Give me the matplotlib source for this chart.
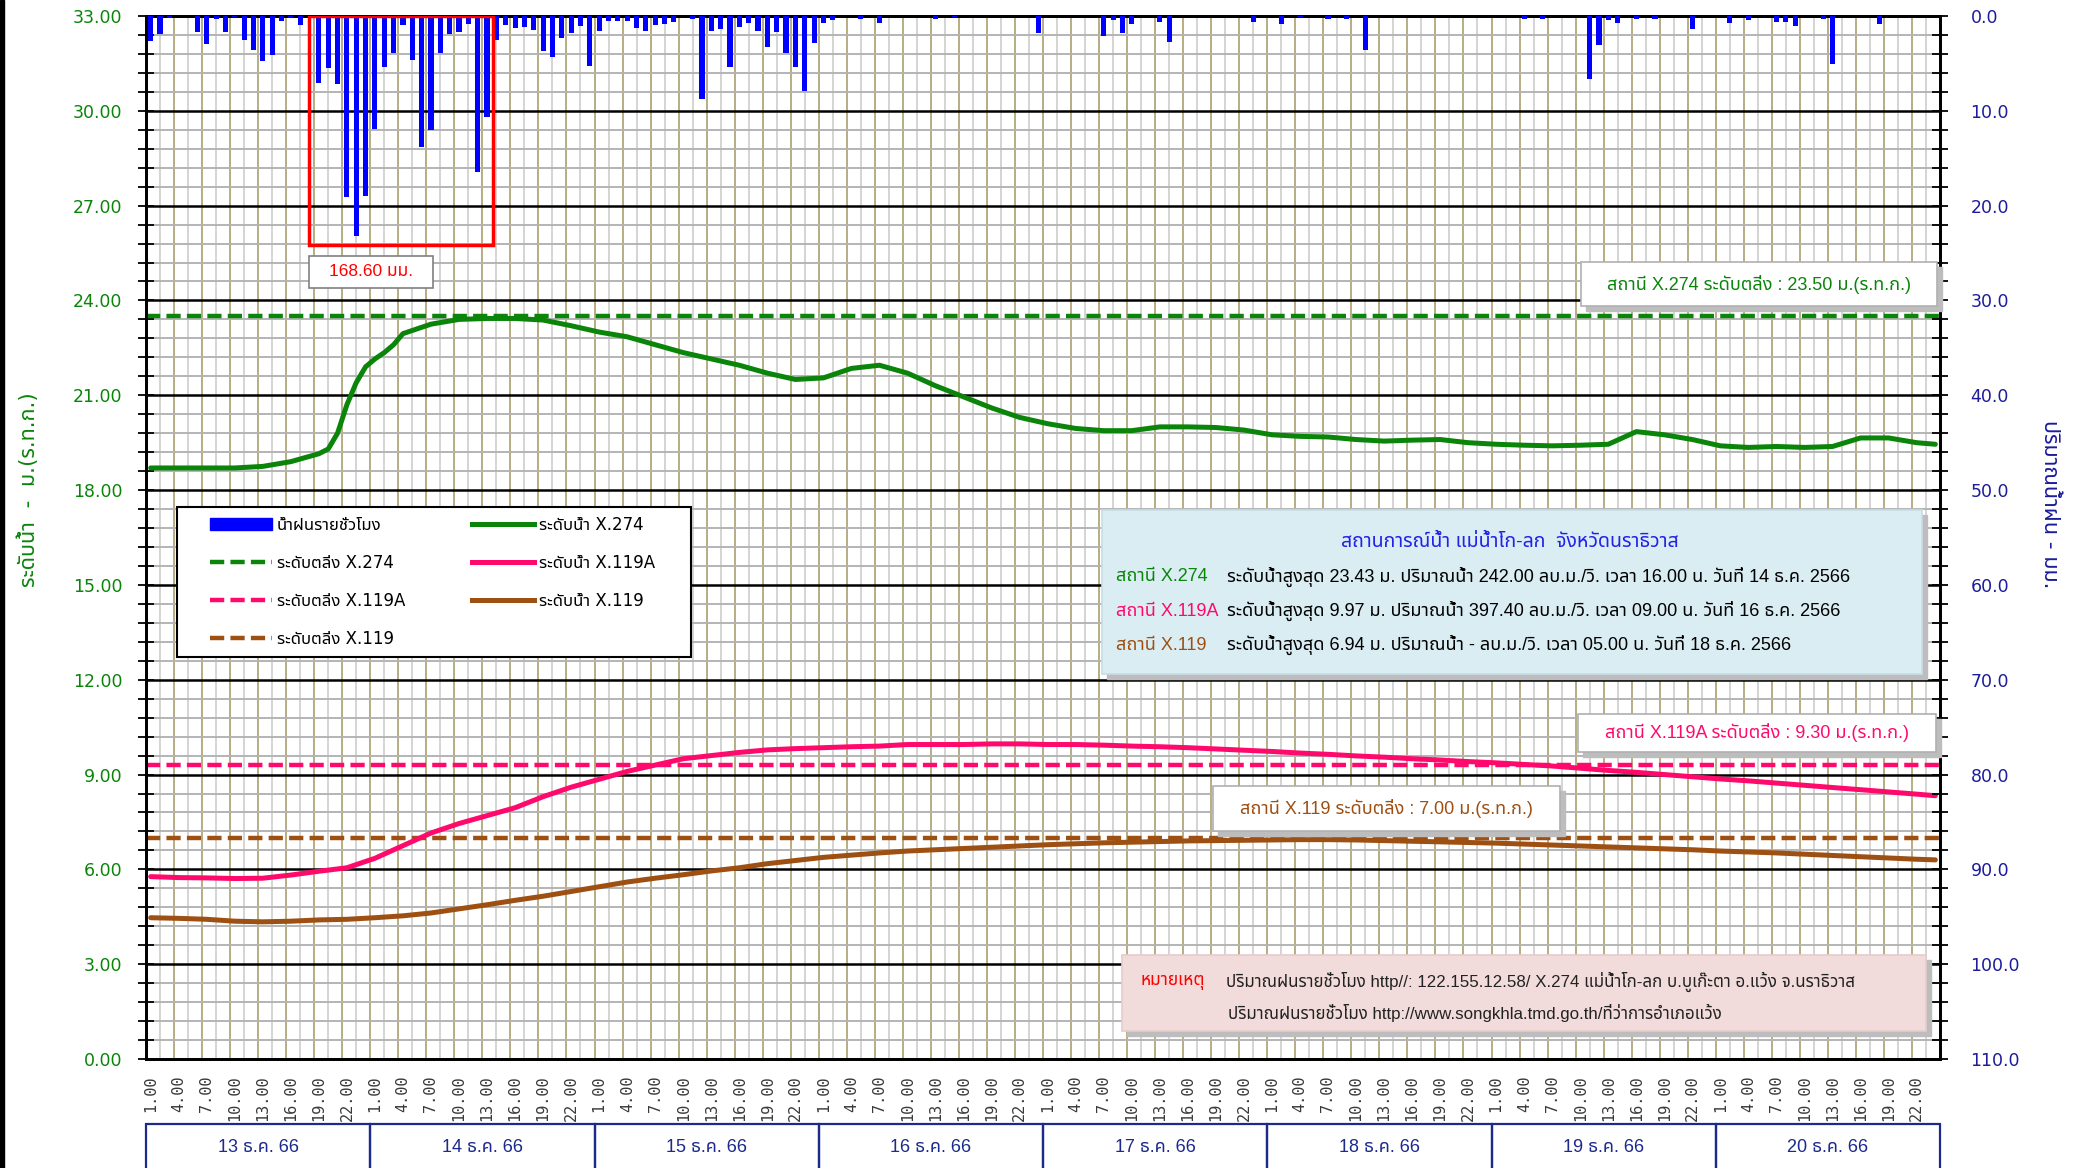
import numpy as np
import matplotlib
matplotlib.use('Agg')
import matplotlib.pyplot as plt
import matplotlib.transforms as mtransforms
from matplotlib import font_manager
from matplotlib.patches import Rectangle, Patch
from matplotlib.lines import Line2D

# ---- data ----
days = ['13 ธ.ค. 66', '14 ธ.ค. 66', '15 ธ.ค. 66', '16 ธ.ค. 66',
        '17 ธ.ค. 66', '18 ธ.ค. 66', '19 ธ.ค. 66', '20 ธ.ค. 66']
hour_labels = ['1.00', '4.00', '7.00', '10.00', '13.00', '16.00', '19.00', '22.00']

# hourly rain (hour index from 13 Dec 01:00, mm)
rain_hour = [0, 1, 2, 5, 6, 7, 8, 9, 10, 11, 12, 13, 14, 15, 16,
             18, 19, 20, 21, 22, 23, 24, 25, 26, 27, 28, 29, 30, 31, 32, 33, 34, 35, 36,
             37, 38, 39, 40, 41, 42, 43, 44, 45, 46, 47, 48, 49, 50, 51, 52, 53, 54,
             55, 56, 58, 59, 60, 61, 62, 63, 64, 65, 66, 67, 68, 69, 70, 71, 72, 73,
             76, 78, 84, 86, 95, 102, 103, 104, 105, 108, 109, 118, 121, 123, 126, 128,
             130, 147, 149, 154, 155, 156, 157, 159, 161, 165, 169, 171, 174, 175, 176,
             179, 180, 185]
rain_mm = [2.6, 1.9, 0.2, 1.7, 3.0, 0.35, 1.7, 0.1, 2.5, 3.6, 4.7, 4.1, 0.5, 0.2, 1.0,
           7.1, 5.5, 7.2, 19.1, 23.2, 19.0, 11.9, 5.4, 3.9, 1.0, 4.6, 13.8, 12.0, 3.85, 1.95, 1.7, 0.8, 16.4, 10.6,
           2.5, 1.0, 1.25, 1.15, 1.45, 3.7, 4.35, 2.3, 1.75, 1.05, 5.25, 1.6, 0.5, 0.55, 0.5, 1.3, 1.6, 0.9,
           0.8, 0.6, 0.3, 8.75, 1.6, 1.4, 5.4, 1.15, 0.75, 1.6, 3.3, 1.65, 3.85, 5.4, 7.9, 2.9, 0.75, 0.45,
           0.3, 0.7, 0.3, 0.15, 1.8, 2.1, 0.4, 1.75, 0.8, 0.65, 2.75, 0.6, 0.8, 0.15, 0.3, 0.3,
           3.6, 0.3, 0.3, 6.6, 3.1, 0.45, 0.75, 0.3, 0.3, 1.35, 0.7, 0.45, 0.6, 0.65, 1.05,
           0.3, 5.1, 0.8]

# water levels, read every 3 hours (hourly where the X.274 rise is steep)
level_hour = list(range(0, 192, 3)) + [191]
hour_274 = [0, 3, 6, 9, 12, 15, 18, 19, 20, 21, 22, 23, 24, 25, 26, 27] + list(range(30, 192, 3)) + [191]
x274 = [18.70, 18.70, 18.70, 18.70, 18.75, 18.90, 19.15, 19.30, 19.80, 20.70,
        21.40, 21.90, 22.15, 22.35, 22.60, 22.95,
        23.25, 23.40, 23.43, 23.43, 23.38, 23.20, 23.00, 22.85, 22.60, 22.35,
        22.15, 21.95, 21.70, 21.50, 21.55, 21.85, 21.95, 21.70, 21.30, 20.95,
        20.60, 20.30, 20.10, 19.95, 19.88, 19.88, 20.00, 20.00, 19.98, 19.90,
        19.75, 19.70, 19.68, 19.60, 19.55, 19.58, 19.60, 19.50, 19.45, 19.42,
        19.40, 19.42, 19.45, 19.85, 19.75, 19.60, 19.40, 19.35, 19.38, 19.35,
        19.38, 19.65, 19.65, 19.50, 19.45]
x119a = [5.77, 5.74, 5.73, 5.71, 5.72, 5.82, 5.94, 6.05, 6.35, 6.75,
         7.15, 7.45, 7.70, 7.95, 8.30, 8.60, 8.85, 9.10, 9.30, 9.50,
         9.60, 9.70, 9.78, 9.82, 9.85, 9.88, 9.90, 9.95, 9.95, 9.95,
         9.97, 9.97, 9.95, 9.95, 9.93, 9.90, 9.88, 9.85, 9.81, 9.77,
         9.73, 9.68, 9.64, 9.59, 9.55, 9.50, 9.46, 9.41, 9.37, 9.32,
         9.27, 9.20, 9.13, 9.07, 9.00, 8.93, 8.86, 8.80, 8.73, 8.66,
         8.59, 8.52, 8.45, 8.38, 8.33]
x119 = [4.47, 4.45, 4.42, 4.36, 4.34, 4.36, 4.40, 4.42, 4.47, 4.53,
        4.62, 4.75, 4.88, 5.02, 5.15, 5.30, 5.45, 5.60, 5.72, 5.83,
        5.95, 6.05, 6.18, 6.28, 6.38, 6.45, 6.52, 6.58, 6.62, 6.66,
        6.70, 6.74, 6.78, 6.81, 6.84, 6.86, 6.88, 6.90, 6.91, 6.92,
        6.93, 6.94, 6.94, 6.93, 6.91, 6.89, 6.87, 6.85, 6.83, 6.80,
        6.77, 6.74, 6.71, 6.68, 6.65, 6.62, 6.58, 6.55, 6.52, 6.48,
        6.44, 6.40, 6.36, 6.32, 6.30]
bank_274 = 23.50
bank_119a = 9.30
bank_119 = 7.00


# ---- fonts: need one with Thai glyphs ----
def thai_family():
    from fontTools.ttLib import TTFont
    prefer = ['Noto Sans Thai', 'Noto Sans Thai UI', 'Tahoma', 'Loma', 'Garuda',
              'Sawasdee', 'Umpush', 'Waree', 'Norasi', 'Kinnari', 'Laksaman']
    found = []
    for f in font_manager.fontManager.ttflist:
        try:
            cmap = TTFont(f.fname, fontNumber=0, lazy=True).getBestCmap()
        except Exception:
            continue
        if cmap and 0x0E01 in cmap and 0x0E33 in cmap:
            found.append(f.name)
    for p in prefer:
        if p in found:
            return p
    return found[0] if found else None


names = {f.name for f in font_manager.fontManager.ttflist}
thai = thai_family()
narrow = 'Liberation Sans Narrow' if 'Liberation Sans Narrow' in names else 'Liberation Sans'
fam = ['DejaVu Sans'] + ([thai] if thai else [])
fam_narrow = [narrow] + ([thai] if thai else []) + ['DejaVu Sans']
plt.rcParams['font.family'] = fam

GREEN = '#0a850a'
PINK = '#ff0a6c'
BROWN = '#9e4f12'
NAVY = '#1c2a8c'

W, H = 2087, 1168
fig = plt.figure(figsize=(W / 100, H / 100), dpi=100)


def fx(x):
    return x / W


def fy(y):
    return 1 - y / H


ax = fig.add_axes([fx(146), fy(1059), fx(1940) - fx(146), fy(16) - fy(1059)])
ax2 = ax.twinx()

ax.set_xlim(-0.5, 191.5)
ax.set_ylim(0, 33)
ax2.set_ylim(110, 0)

# grid
ax.set_yticks(np.arange(0, 33.01, 3))
ax.set_yticks(np.arange(0, 33.01, 0.6), minor=True)
ax.set_yticklabels([f'{v:.2f}' for v in np.arange(0, 33.01, 3)])
ax.grid(which='minor', axis='y', color='#b4b4b4', lw=1.4, zorder=0)
ax.grid(which='major', axis='y', color='black', lw=1.8, zorder=0)
ax.vlines(np.arange(1.0, 191.5, 3), 0, 33, color='#d4d4d4', lw=1.4, zorder=0)
ax.vlines(np.arange(2.5, 191, 3), 0, 33, color='#b8ad84', lw=1.4, zorder=0)
ax.set_axisbelow(True)

ax.set_xticks(level_hour[:-1])
ax.set_xticklabels(hour_labels * len(days), rotation=90, family='DejaVu Sans Mono',
                   fontsize=11, color='#3a3a3a')
ax.tick_params(axis='x', length=0, pad=12)
ax.tick_params(axis='y', which='both', direction='inout', length=12, width=1.3,
               labelcolor=GREEN, labelsize=12.5, pad=11)

ax2.set_yticks(np.arange(0, 110.1, 10))
ax2.set_yticks(np.arange(0, 110.1, 2), minor=True)
ax2.set_yticklabels([f'{v:.1f}' for v in np.arange(0, 110.1, 10)])
ax2.tick_params(axis='y', which='both', direction='inout', length=12, width=1.3,
                labelcolor='#1c1c9c', labelsize=12.5, pad=16)

for a in (ax, ax2):
    for s in a.spines.values():
        s.set_linewidth(2)
        s.set_color('black')

# rain bars
ax2.bar(rain_hour, rain_mm, width=0.55, color='#0000ff', zorder=3)
ax2.add_patch(Rectangle((16.9, 0), 19.7, 24.2, fill=False, edgecolor='#ff0000',
                        lw=2.5, zorder=4))

# bank levels and water levels
dash = (3.2, 1.4)
ax.axhline(bank_274, color=GREEN, lw=3.2, dashes=dash, zorder=2)
ax.axhline(bank_119a, color=PINK, lw=3.2, dashes=dash, zorder=2)
ax.axhline(bank_119, color=BROWN, lw=3.2, dashes=dash, zorder=2)
ax.plot(hour_274, x274, color=GREEN, lw=3.6, zorder=3, solid_capstyle='round',
        solid_joinstyle='round')
ax.plot(level_hour, x119a, color=PINK, lw=3.6, zorder=3, solid_capstyle='round')
ax.plot(level_hour, x119, color=BROWN, lw=3.6, zorder=3, solid_capstyle='round')

# legend (frame drawn separately so the entries can sit inside it)
handles = [Patch(color='#0000ff'),
           Line2D([], [], color=GREEN, lw=3.2, dashes=dash),
           Line2D([], [], color=PINK, lw=3.2, dashes=dash),
           Line2D([], [], color=BROWN, lw=3.2, dashes=dash),
           Line2D([], [], color=GREEN, lw=3.6),
           Line2D([], [], color=PINK, lw=3.6),
           Line2D([], [], color=BROWN, lw=3.6)]
labels = ['น้ำฝนรายชั่วโมง', 'ระดับตลิ่ง X.274', 'ระดับตลิ่ง X.119A', 'ระดับตลิ่ง X.119',
          'ระดับน้ำ X.274', 'ระดับน้ำ X.119A', 'ระดับน้ำ X.119']
leg = ax2.legend(handles, labels, ncol=2, loc='upper left', mode='expand',
                 bbox_to_anchor=(fx(210), fy(654), fx(655) - fx(210), fy(516) - fy(654)),
                 bbox_transform=fig.transFigure, fontsize=12, frameon=False,
                 borderpad=0, labelspacing=1.2, handlelength=3.7, handletextpad=0.3,
                 borderaxespad=0)
ax2.add_artist(Rectangle((fx(177), fy(657)), fx(691) - fx(177), fy(507) - fy(657),
                         transform=fig.transFigure, facecolor='white', edgecolor='black',
                         lw=1.5, zorder=4.5))
leg.set_zorder(5)

# day boxes under the axis
blend = mtransforms.blended_transform_factory(ax.transData, fig.transFigure)
for d, name in enumerate(days):
    ax.add_patch(Rectangle((24 * d - 0.5, -0.02), 24, fy(1124) + 0.02, transform=blend,
                           fill=False, edgecolor=NAVY, lw=1.6, clip_on=False))
    ax.text(24 * d + 11.5, fy(1148), name, transform=blend, ha='center', va='center',
            fontsize=13, color=NAVY, family=fam_narrow)


# boxes drawn in figure pixels
def box(x0, y0, x1, y1, face='white', edge='#b0b0b0', shadow=False):
    if shadow:
        fig.add_artist(Rectangle((fx(x0 + 5), fy(y1 + 5)), fx(x1 - x0), fy(y0) - fy(y1),
                                 transform=fig.transFigure, color='#bdbdbd', zorder=4))
    fig.add_artist(Rectangle((fx(x0), fy(y1)), fx(x1 - x0), fy(y0) - fy(y1),
                             transform=fig.transFigure, facecolor=face, edgecolor=edge,
                             lw=1.2, zorder=5))


def txt(x, y, s, color='black', size=12.5, ha='left', **kw):
    fig.text(fx(x), fy(y), s, color=color, fontsize=size, ha=ha, va='center',
             family=fam_narrow, zorder=6, **kw)


box(1581, 262, 1937, 306, shadow=True)
txt(1759, 284, 'สถานี X.274 ระดับตลิ่ง : 23.50 ม.(ร.ท.ก.)', GREEN, 13, 'center')
box(1578, 714, 1936, 752, shadow=True)
txt(1757, 733, 'สถานี X.119A ระดับตลิ่ง : 9.30 ม.(ร.ท.ก.)', PINK, 13, 'center')
box(1213, 786, 1560, 831, shadow=True)
txt(1386, 808, 'สถานี X.119 ระดับตลิ่ง : 7.00 ม.(ร.ท.ก.)', BROWN, 13, 'center')
box(309, 256, 433, 288, edge='#808080')
txt(371, 272, '168.60 มม.', '#ff0000', 12.5, 'center')

box(1102, 510, 1922, 674, face='#daedf3', edge='#c8dde5', shadow=True)
txt(1510, 542, 'สถานการณ์น้ำ แม่น้ำโก-ลก  จังหวัดนราธิวาส', '#2222e6', 14, 'center')
rows = [('สถานี X.274', GREEN,
         'ระดับน้ำสูงสุด 23.43 ม. ปริมาณน้ำ 242.00 ลบ.ม./วิ. เวลา 16.00 น. วันที่ 14 ธ.ค. 2566'),
        ('สถานี X.119A', PINK,
         'ระดับน้ำสูงสุด 9.97 ม. ปริมาณน้ำ 397.40 ลบ.ม./วิ. เวลา 09.00 น. วันที่ 16 ธ.ค. 2566'),
        ('สถานี X.119', BROWN,
         'ระดับน้ำสูงสุด 6.94 ม. ปริมาณน้ำ - ลบ.ม./วิ. เวลา 05.00 น. วันที่ 18 ธ.ค. 2566')]
for (lab, col, detail), yy in zip(rows, [577, 611, 645]):
    txt(1116, yy, lab, col, 13)
    txt(1227, yy, detail, 'black', 13)

box(1122, 955, 1926, 1031, face='#f2dcdb', edge='#e6cccb', shadow=True)
txt(1140, 982, 'หมายเหตุ', '#ff0000', 12.5, weight='bold')
txt(1226, 982, 'ปริมาณฝนรายชั่วโมง http//: 122.155.12.58/ X.274 แม่น้ำโก-ลก บ.บูเก๊ะตา อ.แว้ง จ.นราธิวาส',
    '#222222', 12.2)
txt(1228, 1013, 'ปริมาณฝนรายชั่วโมง http://www.songkhla.tmd.go.th/ที่ว่าการอำเภอแว้ง', '#222222', 12.2)

# axis titles
fig.text(fx(28), fy(490), 'ระดับน้ำ  -  ม.(ร.ท.ก.)', rotation=90, color=GREEN,
         fontsize=15.5, ha='center', va='center')
fig.text(fx(2050), fy(504), 'ปริมาณน้ำฝน - มม.', rotation=-90, color='#1c1c9c',
         fontsize=15.5, ha='center', va='center')

# black strip on the left edge
fig.add_artist(Rectangle((0, 0), fx(4), 1, transform=fig.transFigure, color='black'))

fig.savefig('out.png', dpi=100)
